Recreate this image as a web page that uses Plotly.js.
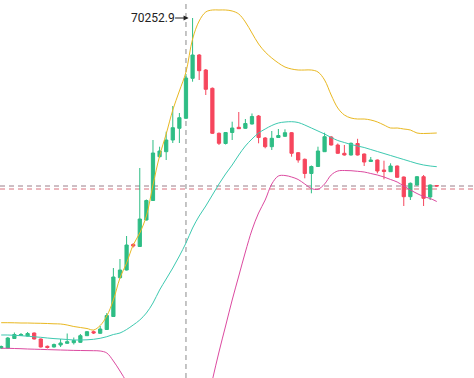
<!DOCTYPE html>
<html>
<head>
<meta charset="utf-8">
<script src="https://cdn.plot.ly/plotly-3.0.1.min.js"></script>
<style>html,body{margin:0;padding:0;background:#fff;}#chart{width:474px;height:378px;}</style>
</head>
<body>
<div id="chart"></div>
<script>
// candle index (one per bar)
const idx = Array.from({length: 67}, (_, i) => i);

const openP = [63652.9,63652.9,63842.9,63902.9,63892.9,63952.9,63832.9,63686.9,63672.9,63712.9,
  63746.9,63758.9,63766.9,63898.9,63978.9,63946.9,64022.9,64282.9,65058.9,65212.9,
  65722.9,65682.9,66212.9,66602.9,67478.9,67578.9,67812.9,68046.9,68246.9,69046.9,
  69512.9,69212.9,68846.9,67946.9,67742.9,67962.9,68066.9,68046.9,68132.9,68292.9,
  67852.9,67678.9,67862.9,67886.9,67958.9,67558.9,67426.9,67142.9,67282.9,67578.9,
  67872.9,67712.9,67546.9,67512.9,67742.9,67532.9,67382.9,67412.9,67212.9,67178.9,
  67292.9,67072.9,66678.9,66912.9,67078.9,66672.9,66902.9];
const highP = [63702.9,63872.9,63962.9,63952.9,63972.9,63962.9,63842.9,63702.9,63742.9,63832.9,
  63942.9,63862.9,63932.9,63992.9,64002.9,64092.9,64352.9,65252.9,65432.9,65892.9,
  65752.9,67252.9,66622.9,67812.9,67678.9,67978.9,68492.9,68352.9,69132.9,70252.9,
  69532.9,69232.9,68862.9,67962.9,67972.9,68178.9,68372.9,68232.9,68342.9,68312.9,
  67872.9,67992.9,68032.9,68026.9,67972.9,67572.9,67442.9,67302.9,67678.9,67958.9,
  67892.9,67742.9,67712.9,67762.9,67836.9,67542.9,67472.9,67422.9,67398.9,67346.9,
  67302.9,67082.9,66962.9,67092.9,67112.9,66922.9,66906.9];
const lowP = [63632.9,63642.9,63832.9,63892.9,63882.9,63822.9,63662.9,63642.9,63662.9,63672.9,
  63732.9,63722.9,63752.9,63892.9,63932.9,63936.9,64012.9,64272.9,65042.9,65202.9,
  65662.9,65672.9,66202.9,66592.9,67462.9,67412.9,67752.9,67752.9,68232.9,68978.9,
  69012.9,68712.9,67932.9,67712.9,67722.9,67812.9,68032.9,68032.9,68122.9,67746.9,
  67646.9,67612.9,67852.9,67872.9,67478.9,67358.9,67046.9,66746.9,67272.9,67572.9,
  67702.9,67536.9,67502.9,67502.9,67502.9,67292.9,67372.9,67146.9,67026.9,67172.9,
  67056.9,66492.9,66612.9,66902.9,66492.9,66612.9,66882.9];
const closeP = [63682.9,63852.9,63922.9,63922.9,63942.9,63832.9,63672.9,63662.9,63722.9,63752.9,
  63778.9,63802.9,63898.9,63978.9,63952.9,64032.9,64302.9,65072.9,65212.9,65712.9,
  65692.9,66232.9,66602.9,67552.9,67592.9,67812.9,68058.9,68258.9,69052.9,69512.9,
  69198.9,68826.9,67946.9,67746.9,67962.9,68052.9,68038.9,68142.9,68282.9,67862.9,
  67678.9,67846.9,67902.9,67958.9,67546.9,67412.9,67142.9,67282.9,67592.9,67878.9,
  67712.9,67546.9,67512.9,67746.9,67512.9,67372.9,67412.9,67192.9,67182.9,67292.9,
  67066.9,66678.9,66946.9,67078.9,66646.9,66912.9,66892.9];

// Bollinger bands
const bollUp = [64158.9,64158.9,64156.9,64152.9,64152.9,64148.9,64146.9,64142.9,64136.9,64132.9,
  64112.9,64082.9,64062.9,64042.9,64012.9,64102.9,64292.9,64612.9,65052.9,65352.9,
  65712.9,65952.9,66292.9,66912.9,67492.9,67932.9,68412.9,68792.9,69172.9,69832.9,
  70192.9,70372.9,70412.9,70412.9,70412.9,70392.9,70332.9,70172.9,69952.9,69732.9,
  69572.9,69452.9,69352.9,69272.9,69232.9,69212.9,69212.9,69212.9,69172.9,69012.9,
  68712.9,68452.9,68312.9,68252.9,68232.9,68232.9,68212.9,68172.9,68112.9,68052.9,
  68052.9,68032.9,68012.9,67952.9,67942.9,67946.9,67952.9];
const bollMid = [63912.9,63912.9,63906.9,63898.9,63888.9,63876.9,63866.9,63852.9,63840.9,63832.9,
  63822.9,63812.9,63812.9,63816.9,63826.9,63846.9,63878.9,63922.9,63952.9,64022.9,
  64112.9,64212.9,64352.9,64552.9,64812.9,65032.9,65252.9,65492.9,65752.9,66052.9,
  66292.9,66492.9,66712.9,66932.9,67132.9,67312.9,67512.9,67692.9,67832.9,67952.9,
  68032.9,68102.9,68152.9,68172.9,68178.9,68162.9,68112.9,68052.9,67992.9,67932.9,
  67862.9,67802.9,67762.9,67722.9,67692.9,67662.9,67622.9,67582.9,67542.9,67502.9,
  67462.9,67422.9,67382.9,67342.9,67312.9,67292.9,67278.9];
const bollLow = [63646.9,63646.9,63642.9,63638.9,63632.9,63628.9,63624.9,63620.9,63616.9,63612.9,
  63608.9,63604.9,63602.9,63600.9,63598.9,63592.9,63552.9,63392.9,63192.9,62972.9,
  62712.9,62412.9,62112.9,61812.9,61572.9,61372.9,61252.9,61212.9,61252.9,61412.9,
  61812.9,62412.9,63012.9,63572.9,64092.9,64612.9,65092.9,65572.9,66012.9,66352.9,
  66612.9,66932.9,67092.9,67102.9,67072.9,67022.9,66932.9,66842.9,66826.9,66932.9,
  67112.9,67192.9,67202.9,67198.9,67186.9,67172.9,67142.9,67112.9,67072.9,67022.9,
  66972.9,66892.9,66812.9,66742.9,66682.9,66642.9,66582.9];

const maxHigh = 70252.9;
const maxHighIdx = 29;
const crossIdx = 28;
const lastPrice = 66892.9;
const markPrice = 66832.9;

const GREEN = '#2ebd85', RED = '#f6465d';

const traces = [
  {
    type: 'candlestick', x: idx, open: openP, high: highP, low: lowP, close: closeP,
    increasing: {line: {color: GREEN, width: 1}, fillcolor: GREEN},
    decreasing: {line: {color: RED, width: 1}, fillcolor: RED},
    whiskerwidth: 0, hoverinfo: 'skip'
  },
  {type: 'scatter', mode: 'lines', x: idx, y: bollUp, line: {color: '#e9b821', width: 1, shape: 'spline'}, hoverinfo: 'skip'},
  {type: 'scatter', mode: 'lines', x: idx, y: bollMid, line: {color: '#3dc9b0', width: 1, shape: 'spline'}, hoverinfo: 'skip'},
  {type: 'scatter', mode: 'lines', x: idx, y: bollLow, line: {color: '#dc4aa0', width: 1, shape: 'spline'}, hoverinfo: 'skip'}
];

const layout = {
  width: 474, height: 378,
  margin: {l: 0, r: 0, t: 0, b: 0},
  paper_bgcolor: '#ffffff', plot_bgcolor: '#ffffff',
  showlegend: false,
  hovermode: false,
  xaxis: {range: [-0.18, 71.64], visible: false, rangeslider: {visible: false}, fixedrange: true},
  yaxis: {range: [63052.9, 70612.9], visible: false, fixedrange: true},
  shapes: [
    {type: 'line', xref: 'x', yref: 'paper', x0: crossIdx, x1: crossIdx, y0: 0, y1: 1,
     line: {color: '#8a8a8a', width: 1, dash: '5px,4px'}, layer: 'below'},
    {type: 'line', xref: 'paper', yref: 'y', x0: 0, x1: 1, y0: lastPrice, y1: lastPrice,
     line: {color: '#9a7f8a', width: 1, dash: '5px,4px'}, layer: 'below'},
    {type: 'line', xref: 'paper', yref: 'y', x0: 0, x1: 1, y0: markPrice, y1: markPrice,
     line: {color: '#d9707c', width: 1, dash: '5px,4px'}, layer: 'below'}
  ],
  annotations: [
    {x: maxHighIdx, y: maxHigh, xref: 'x', yref: 'y', text: maxHigh.toFixed(1),
     showarrow: true, axref: 'pixel', ayref: 'pixel', ax: -40, ay: 0,
     arrowhead: 2, arrowsize: 1, arrowwidth: 1, arrowcolor: '#222', standoff: 4,
     borderpad: 0,
     font: {family: 'Roboto, Arial, sans-serif', size: 12, color: '#222'}}
  ]
};

Plotly.newPlot('chart', traces, layout, {staticPlot: true, displayModeBar: false});
</script>
</body>
</html>
